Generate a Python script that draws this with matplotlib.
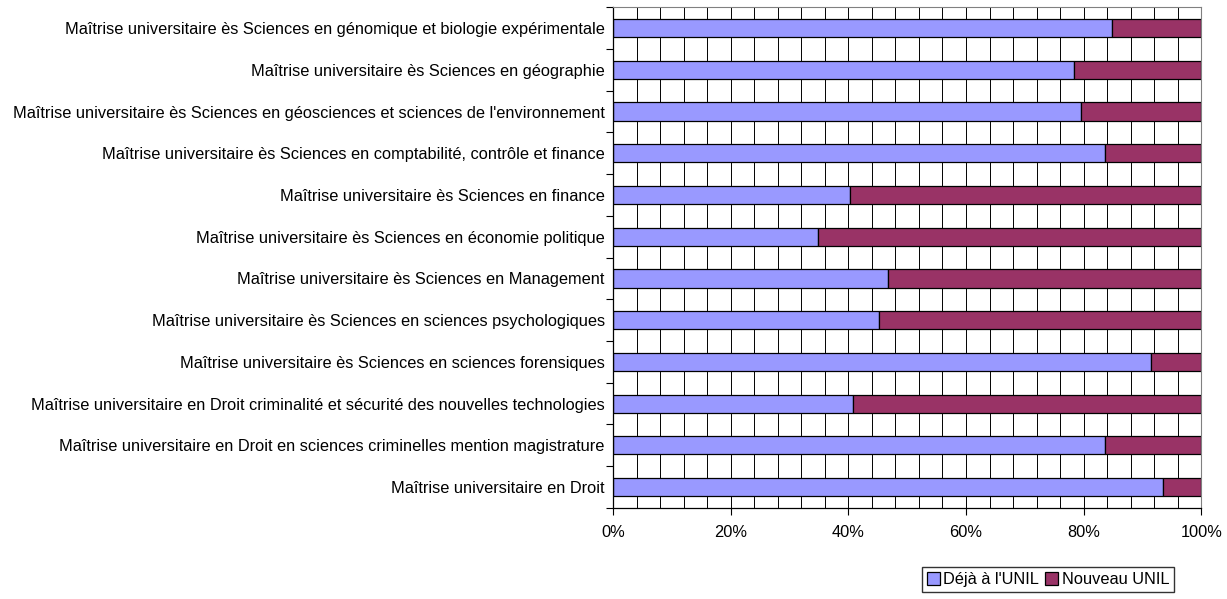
import numpy as np
import matplotlib.pyplot as plt
from matplotlib.ticker import MultipleLocator, PercentFormatter


# -----------------------------
# Data
# -----------------------------
CATEGORIES = [
    "Maîtrise universitaire ès Sciences en génomique et biologie expérimentale",
    "Maîtrise universitaire ès Sciences en géographie",
    "Maîtrise universitaire ès Sciences en géosciences et sciences de l'environnement",
    "Maîtrise universitaire ès Sciences en comptabilité, contrôle et finance",
    "Maîtrise universitaire ès Sciences en finance",
    "Maîtrise universitaire ès Sciences en économie politique",
    "Maîtrise universitaire ès Sciences en Management",
    "Maîtrise universitaire ès Sciences en sciences psychologiques",
    "Maîtrise universitaire ès Sciences en sciences forensiques",
    "Maîtrise universitaire en Droit criminalité et sécurité des nouvelles technologies",
    "Maîtrise universitaire en Droit en sciences criminelles mention magistrature",
    "Maîtrise universitaire en Droit",
]

# share of students already at UNIL (%)
DEJA_UNIL = [84.8, 78.4, 79.5, 83.7, 40.3, 34.9, 46.8, 45.2, 91.4, 40.8, 83.7, 93.5]
NOUVEAU_UNIL = [100 - v for v in DEJA_UNIL]

SERIES_NAMES = ["Déjà à l'UNIL", "Nouveau UNIL"]
COLORS = ["#9999FF", "#993366"]


# -----------------------------
# Plot
# -----------------------------
plt.rcParams["font.family"] = ["Liberation Sans", "DejaVu Sans"]
plt.rcParams["font.size"] = 11.8

fig = plt.figure(figsize=(12.27, 5.99), dpi=100)
ax = fig.add_axes([0.4996, 0.152, 0.4795, 0.836])

n = len(CATEGORIES)
y = np.arange(n)[::-1]
bar_h = 0.435

ax.set_axisbelow(True)
ax.barh(y, DEJA_UNIL, height=bar_h, color=COLORS[0], edgecolor="black",
        linewidth=0.9, label=SERIES_NAMES[0])
ax.barh(y, NOUVEAU_UNIL, left=DEJA_UNIL, height=bar_h, color=COLORS[1],
        edgecolor="black", linewidth=0.9, label=SERIES_NAMES[1])

ax.set_xlim(0, 100)
ax.set_ylim(-0.5, n - 0.5)

# x axis: labels every 20%, vertical gridlines every 4%
ax.xaxis.set_major_locator(MultipleLocator(20))
ax.xaxis.set_minor_locator(MultipleLocator(4))
ax.xaxis.set_major_formatter(PercentFormatter(decimals=0))
ax.grid(axis="x", which="both", color="black", linewidth=0.7)
ax.tick_params(axis="x", which="major", length=5, width=0.8, pad=7)
ax.tick_params(axis="x", which="minor", length=0)

# y axis: labels at bar centres, tick marks on category boundaries
ax.set_yticks(y)
ax.set_yticklabels(CATEGORIES)
ax.tick_params(axis="y", which="major", length=0, pad=6)
ax.set_yticks(np.arange(n + 1) - 0.5, minor=True)
ax.tick_params(axis="y", which="minor", length=5, width=0.8)

for side in ["left", "bottom"]:
    ax.spines[side].set_color("black")
    ax.spines[side].set_linewidth(0.9)
for side in ["top", "right"]:
    ax.spines[side].set_color("#808080")
    ax.spines[side].set_linewidth(0.8)

fig.legend(loc="center", bbox_to_anchor=(0.854, 0.0326),
           ncol=2, frameon=True, fancybox=False, edgecolor="black",
           handlelength=0.8, handleheight=0.8, handletextpad=0.2,
           columnspacing=0.4, borderpad=0.3, fontsize=11.8)

fig.savefig("out.png", dpi=100)
